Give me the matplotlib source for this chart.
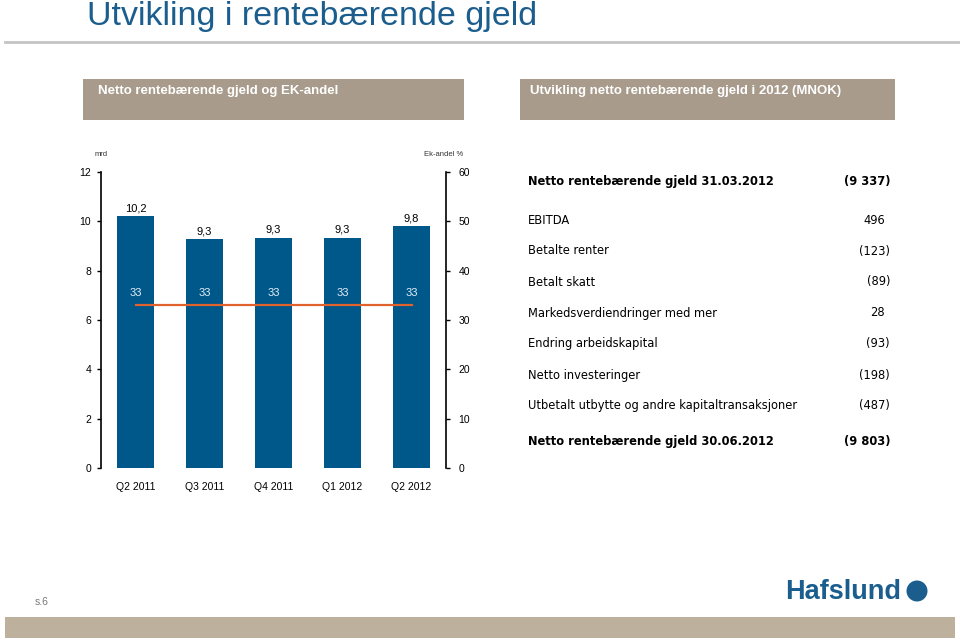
import matplotlib
matplotlib.use("Agg")
import matplotlib.pyplot as plt
from matplotlib.patches import Rectangle, Ellipse
from matplotlib.lines import Line2D

# chart data
quarters = ['Q2 2011', 'Q3 2011', 'Q4 2011', 'Q1 2012', 'Q2 2012']
gjeld_mrd = [10.2, 9.28, 9.34, 9.34, 9.8]
ek_andel = [33, 33, 33, 33, 33]

# table data (MNOK)
start_label = 'Netto rentebærende gjeld 31.03.2012'
start_value = '(9 337)'
flow_labels = ['EBITDA', 'Betalte renter', 'Betalt skatt',
               'Markedsverdiendringer med mer', 'Endring arbeidskapital',
               'Netto investeringer',
               'Utbetalt utbytte og andre kapitaltransaksjoner']
flow_values = ['496', '(123)', '(89)', '28', '(93)', '(198)', '(487)']
end_label = 'Netto rentebærende gjeld 30.06.2012'
end_value = '(9 803)'

W, H = 960, 640
BLUE = '#00578A'
ORANGE = '#E0622C'
TAUPE = '#A89B8C'
TITLE_BLUE = '#1B5E8E'
TABLE_FS = 8.3

fig = plt.figure(figsize=(W / 100, H / 100), dpi=100)
fig.patch.set_facecolor('white')


def fx(x):
    return x / W


def fy(y):
    return 1 - y / H


def add_rect(x0, y0, x1, y1, color):
    fig.patches.append(Rectangle((fx(x0), fy(y1)), fx(x1 - x0), (y1 - y0) / H,
                                 transform=fig.transFigure, facecolor=color,
                                 edgecolor='none', zorder=0))


# title + rule
fig.text(fx(87), fy(17), 'Utvikling i rentebærende gjeld', fontsize=24.5,
         color=TITLE_BLUE, family='Liberation Sans', va='center', ha='left')
fig.lines.append(Line2D([fx(5), fx(960)], [fy(42), fy(42)], transform=fig.transFigure,
                        color='#C4C4C4', lw=2))

# header boxes
add_rect(83, 79, 464, 120, TAUPE)
add_rect(520, 79, 895, 120, TAUPE)
fig.text(fx(98), fy(91), 'Netto rentebærende gjeld og EK-andel', color='white',
         fontsize=9.5, fontweight='bold', family='Liberation Sans', va='center')
fig.text(fx(530), fy(91), 'Utvikling netto rentebærende gjeld i 2012 (MNOK)',
         color='white', fontsize=9.5, fontweight='bold', family='Liberation Sans',
         va='center')

# bar chart
ax = fig.add_axes([fx(101), fy(468), fx(446 - 101), (468 - 172) / H])
x = range(len(quarters))
ax.bar(x, gjeld_mrd, width=0.55, color=BLUE, zorder=2)
for i, v in enumerate(gjeld_mrd):
    ax.annotate(f'{v:.1f}'.replace('.', ','), (i, v), xytext=(0, 3),
                textcoords='offset pixels', ha='center', va='bottom',
                fontsize=8, family='Liberation Sans')
ax.set_xlim(-0.5, len(quarters) - 0.5)
ax.set_ylim(0, 12)
ax.set_yticks(range(0, 13, 2))
ax.set_xticks(list(x))
ax.set_xticklabels(quarters)
for s in ['top', 'right', 'bottom']:
    ax.spines[s].set_visible(False)
ax.spines['left'].set_linewidth(1.2)
ax.tick_params(axis='x', length=0, pad=10, labelsize=7.5)
ax.tick_params(axis='y', length=3, width=1, pad=4, labelsize=7.5)
for lbl in ax.get_xticklabels() + ax.get_yticklabels():
    lbl.set_family('Liberation Sans')

ax2 = ax.twinx()
ax2.plot(list(x), ek_andel, color=ORANGE, lw=1.6, zorder=3)
for i, v in enumerate(ek_andel):
    ax2.annotate(str(v), (i, v), xytext=(0, 12), textcoords='offset pixels',
                 ha='center', va='center', fontsize=8, color='#E3EEF6',
                 family='Liberation Sans')
ax2.set_ylim(0, 60)
ax2.set_yticks(range(0, 61, 10))
for s in ['top', 'left', 'bottom']:
    ax2.spines[s].set_visible(False)
ax2.spines['right'].set_linewidth(1.2)
ax2.tick_params(axis='y', length=3, width=1, pad=6, labelsize=7.5)
for lbl in ax2.get_yticklabels():
    lbl.set_family('Liberation Sans')

fig.text(fx(101), fy(155), 'mrd', fontsize=5.5, ha='center', va='center',
         family='Liberation Sans', color='#333333')
fig.text(fx(463), fy(155), 'Ek-andel %', fontsize=5.5, ha='right', va='center',
         family='Liberation Sans', color='#333333')

# table
lx = fx(528)


def value_x(v):
    return fx(890) if v.startswith('(') else fx(885)


fig.text(lx, fy(181), start_label, fontsize=TABLE_FS, fontweight='bold',
         family='DejaVu Sans', va='center')
fig.text(value_x(start_value), fy(181), start_value, fontsize=TABLE_FS, fontweight='bold',
         family='DejaVu Sans', va='center', ha='right')
row_y = 220
for lab, val in zip(flow_labels, flow_values):
    fig.text(lx, fy(row_y), lab, fontsize=TABLE_FS, family='DejaVu Sans', va='center')
    fig.text(value_x(val), fy(row_y), val, fontsize=TABLE_FS, family='DejaVu Sans',
             va='center', ha='right')
    row_y += 31
row_y = row_y - 31 + 36
fig.text(lx, fy(row_y), end_label, fontsize=TABLE_FS, fontweight='bold',
         family='DejaVu Sans', va='center')
fig.text(value_x(end_value), fy(row_y), end_value, fontsize=TABLE_FS, fontweight='bold',
         family='DejaVu Sans', va='center', ha='right')

# footer
fig.text(fx(35), fy(602), 's.6', fontsize=7.5, color='#777777',
         family='Liberation Sans', va='center')
fig.text(fx(785), fy(592), 'Hafslund', fontsize=19.5, fontweight='bold',
         color=TITLE_BLUE, family='Liberation Sans', va='center')
fig.patches.append(Ellipse((fx(917), fy(591)), 21 / W, 21 / H, transform=fig.transFigure,
                           facecolor=TITLE_BLUE, edgecolor='none'))
add_rect(5, 617, 955, 638, '#BDB09C')

fig.savefig('out.png', dpi=100)
